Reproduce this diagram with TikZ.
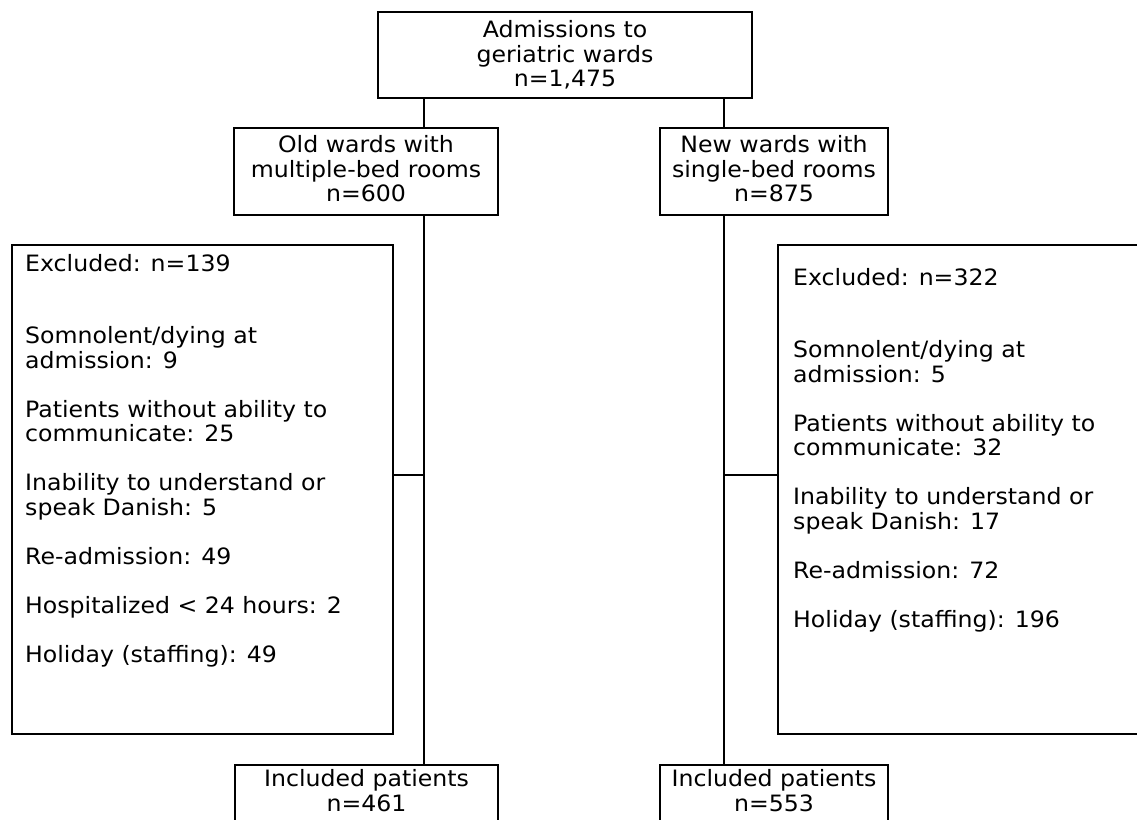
\documentclass[tikz,border=0pt]{standalone}
\usepackage{fontspec}
\setmainfont{DejaVu Sans}[FakeStretch=1.05]
\usepackage{tikz}

\begin{document}
\begin{tikzpicture}[x=1pt, y=-1pt,
  frame/.style={draw, line width=2pt, inner sep=0pt},
  txt/.style={inner sep=0pt, align=center, font=\fontsize{22.5}{24.5}\selectfont},
  list/.style={txt, align=left, anchor=north west},
  link/.style={line width=2pt}]
\useasboundingbox (0,0) rectangle (1137,819);
\clip (0,0) rectangle (1137,819);
\coordinate (colL) at (424,0);
\coordinate (colR) at (724,0);
\coordinate (brL) at (424,475);
\coordinate (brR) at (724,475);

\node[frame, minimum width=374pt, minimum height=86pt] (adm) at (565,55) {};
\node[txt] (admtxt) at (adm) {Admissions to\\geriatric wards\\n=1,475};

\node[frame, minimum width=264pt, minimum height=87pt] (oldw) at (366,171.5) {};
\node[txt, yshift=2.5pt] (oldwtxt) at (oldw) {Old wards with\\multiple-bed rooms\\n=600};
\node[frame, minimum width=228pt, minimum height=87pt] (neww) at (774,171.5) {};
\node[txt, yshift=2.5pt] (newwtxt) at (neww) {New wards with\\single-bed rooms\\n=875};

\node[frame, minimum width=381pt, minimum height=489pt] (exclL) at (202.5,489.5) {};
\node[list] (exclLtxt) at (25,254) {Excluded: n=139\\[48pt]
  Somnolent/dying at\\admission: 9\\[24.5pt]
  Patients without ability to\\communicate: 25\\[24.5pt]
  Inability to understand or\\speak Danish: 5\\[24.5pt]
  Re-admission: 49\\[24.5pt]
  Hospitalized < 24 hours: 2\\[24.5pt]
  Holiday (staffing): 49};
\node[frame, minimum width=380pt, minimum height=489pt] (exclR) at (968,489.5) {};
\node[list] (exclRtxt) at (793,268) {Excluded: n=322\\[48pt]
  Somnolent/dying at\\admission: 5\\[24.5pt]
  Patients without ability to\\communicate: 32\\[24.5pt]
  Inability to understand or\\speak Danish: 17\\[24.5pt]
  Re-admission: 72\\[24.5pt]
  Holiday (staffing): 196};

\node[frame, anchor=north, minimum width=263pt, minimum height=80pt] (inclL) at (366.5,764) {};
\node[txt, anchor=north] (inclLtxt) at ([yshift=-5.5pt]inclL.north) {Included patients\\n=461};
\node[frame, anchor=north, minimum width=228pt, minimum height=80pt] (inclR) at (774,764) {};
\node[txt, anchor=north] (inclRtxt) at ([yshift=-5.5pt]inclR.north) {Included patients\\n=553};

\draw[link] (adm.south -| colL) -- (oldw.north -| colL);
\draw[link] (adm.south -| colR) -- (neww.north -| colR);
\draw[link] (oldw.south -| colL) -- (inclL.north -| colL);
\draw[link] (neww.south -| colR) -- (inclR.north -| colR);
\draw[link] (exclL.east |- brL) -- (brL);
\draw[link] (brR) -- (exclR.west |- brR);
\end{tikzpicture}
\end{document}
